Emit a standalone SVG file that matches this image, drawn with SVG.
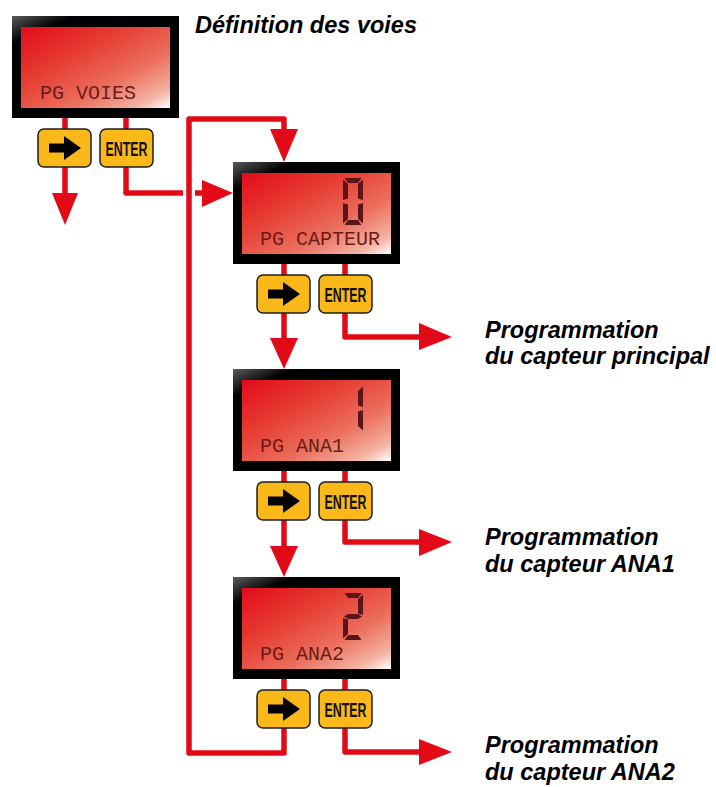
<svg xmlns="http://www.w3.org/2000/svg" xmlns:xlink="http://www.w3.org/1999/xlink" width="716" height="787" viewBox="0 0 716 787">
  <defs>
    <style>
      .wire{fill:none;stroke:#E30A17;stroke-width:5.5;stroke-linejoin:round}
      .head{fill:#E30A17}
      .bezel{fill:url(#bezelGrad)}
      .screen{fill:url(#lcdGrad)}
      .lcd-text{font-family:"Liberation Mono","DejaVu Sans Mono",monospace;font-size:20px;fill:#6B1B1B}
      .seg{fill:#5A1518}
      .key{fill:#FBB919;stroke:#1E1E1E;stroke-width:1.5}
      .glyph{fill:#000}
      .key-label{font-family:"Liberation Sans",Arial,sans-serif;font-weight:bold;font-size:21px;fill:#111;text-anchor:middle}
      .label{font-family:"Liberation Sans",Arial,sans-serif;font-weight:bold;font-style:italic;font-size:23.5px;fill:#000}
    </style>
    <linearGradient id="lcdGrad" x1="0" y1="0" x2="1" y2="1">
      <stop offset="0" stop-color="#E30B1B"/>
      <stop offset="0.35" stop-color="#E63D32"/>
      <stop offset="0.65" stop-color="#EB6E5C"/>
      <stop offset="0.88" stop-color="#F4B3A3"/>
      <stop offset="1" stop-color="#FFFFFF"/>
    </linearGradient>
    <linearGradient id="bezelGrad" x1="0" y1="0" x2="0.3" y2="0.4">
      <stop offset="0" stop-color="#5A5A5A"/>
      <stop offset="0.45" stop-color="#000"/>
      <stop offset="1" stop-color="#000"/>
    </linearGradient>
    <!-- seven-segment pieces, digit cell 20 x 47 -->
    <polygon id="sa" class="seg" points="1.5,0 18.5,0 15,5 5,5"/>
    <polygon id="sb" class="seg" points="20,1.5 20,22 15,20.5 15,6"/>
    <polygon id="sc" class="seg" points="20,25 20,45.5 15,41 15,26.5"/>
    <polygon id="sd" class="seg" points="1.5,47 5,42 15,42 18.5,47"/>
    <polygon id="se" class="seg" points="0,25 5,26.5 5,41 0,45.5"/>
    <polygon id="sf" class="seg" points="0,1.5 5,6 5,20.5 0,22"/>
    <polygon id="sg" class="seg" points="1,23.5 5,21 15,21 19,23.5 15,26 5,26"/>
    <!-- LCD housing: bezel + screen -->
    <g id="lcd">
      <rect class="bezel" x="0" y="0" width="167" height="102"/>
      <rect class="screen" x="9" y="11" width="149" height="81"/>
    </g>
    <!-- keypad buttons -->
    <g id="key-next">
      <rect class="key" x="0" y="0" width="53" height="38" rx="6"/>
      <path class="glyph" d="M11 14.5 H26 V7 L43 19 L26 31 V23.5 H11 Z"/>
    </g>
    <g id="key-enter">
      <rect class="key" x="0" y="0" width="53" height="38" rx="6"/>
      <text class="key-label" x="26.5" y="27" textLength="42" lengthAdjust="spacingAndGlyphs">ENTER</text>
    </g>
  </defs>

  <rect width="716" height="787" fill="#fff"/>

  <!-- connectors -->
  <g id="connectors">
    <!-- exit from PG VOIES -->
    <path class="wire" d="M65 118 V194"/>
    <polygon class="head" points="52,193 78,193 65,225"/>
    <!-- ENTER on PG VOIES into PG CAPTEUR (broken where it crosses the return line) -->
    <path class="wire" d="M126 118 V193 H183"/>
    <path class="wire" d="M195 193 H203"/>
    <polygon class="head" points="202,180 202,207 233,193"/>
    <!-- return loop from PG ANA2 back to PG CAPTEUR -->
    <path class="wire" d="M284 679 V753 H189 V119 H284 V130"/>
    <polygon class="head" points="270,129 298,129 284,162"/>
    <!-- PG CAPTEUR -> PG ANA1 -->
    <path class="wire" d="M284 263 V339"/>
    <polygon class="head" points="270,338 298,338 284,369"/>
    <!-- PG ANA1 -> PG ANA2 -->
    <path class="wire" d="M284 471 V547"/>
    <polygon class="head" points="270,546 298,546 284,577"/>
    <!-- ENTER exits -->
    <path class="wire" d="M345 263 V337 H420"/>
    <polygon class="head" points="419,323 419,350 452,337"/>
    <path class="wire" d="M345 471 V542 H420"/>
    <polygon class="head" points="419,529 419,556 452,542"/>
    <path class="wire" d="M345 679 V752 H420"/>
    <polygon class="head" points="419,739 419,765 452,752"/>
  </g>

  <!-- PG VOIES -->
  <g id="pg-voies">
    <use href="#lcd" x="12" y="16"/>
    <text class="lcd-text" x="40" y="99">PG VOIES</text>
  </g>
  <g id="pg-voies-keys">
    <use href="#key-next" x="38" y="129"/>
    <use href="#key-enter" x="100" y="129"/>
  </g>

  <!-- PG CAPTEUR, channel 0 -->
  <g id="pg-capteur">
    <use href="#lcd" x="233" y="162"/>
    <g transform="translate(343 178)">
      <use href="#sa"/><use href="#sb"/><use href="#sc"/><use href="#sd"/><use href="#se"/><use href="#sf"/>
    </g>
    <text class="lcd-text" x="260" y="245">PG CAPTEUR</text>
  </g>
  <g id="pg-capteur-keys">
    <use href="#key-next" x="257" y="275"/>
    <use href="#key-enter" x="319" y="275"/>
  </g>

  <!-- PG ANA1, channel 1 -->
  <g id="pg-ana1">
    <use href="#lcd" x="233" y="369"/>
    <g transform="translate(343 385)">
      <use href="#sb"/><use href="#sc"/>
    </g>
    <text class="lcd-text" x="260" y="452">PG ANA1</text>
  </g>
  <g id="pg-ana1-keys">
    <use href="#key-next" x="257" y="482"/>
    <use href="#key-enter" x="319" y="482"/>
  </g>

  <!-- PG ANA2, channel 2 -->
  <g id="pg-ana2">
    <use href="#lcd" x="233" y="577"/>
    <g transform="translate(343 593)">
      <use href="#sa"/><use href="#sb"/><use href="#sg"/><use href="#se"/><use href="#sd"/>
    </g>
    <text class="lcd-text" x="260" y="660">PG ANA2</text>
  </g>
  <g id="pg-ana2-keys">
    <use href="#key-next" x="257" y="690"/>
    <use href="#key-enter" x="319" y="690"/>
  </g>

  <!-- captions -->
  <g id="title">
    <text class="label" x="195" y="33">Définition des voies</text>
  </g>
  <g id="prog-principal">
    <text class="label" x="485" y="338">Programmation</text>
    <text class="label" x="485" y="364">du capteur principal</text>
  </g>
  <g id="prog-ana1">
    <text class="label" x="485" y="545">Programmation</text>
    <text class="label" x="485" y="572">du capteur ANA1</text>
  </g>
  <g id="prog-ana2">
    <text class="label" x="485" y="753">Programmation</text>
    <text class="label" x="485" y="780">du capteur ANA2</text>
  </g>
</svg>
